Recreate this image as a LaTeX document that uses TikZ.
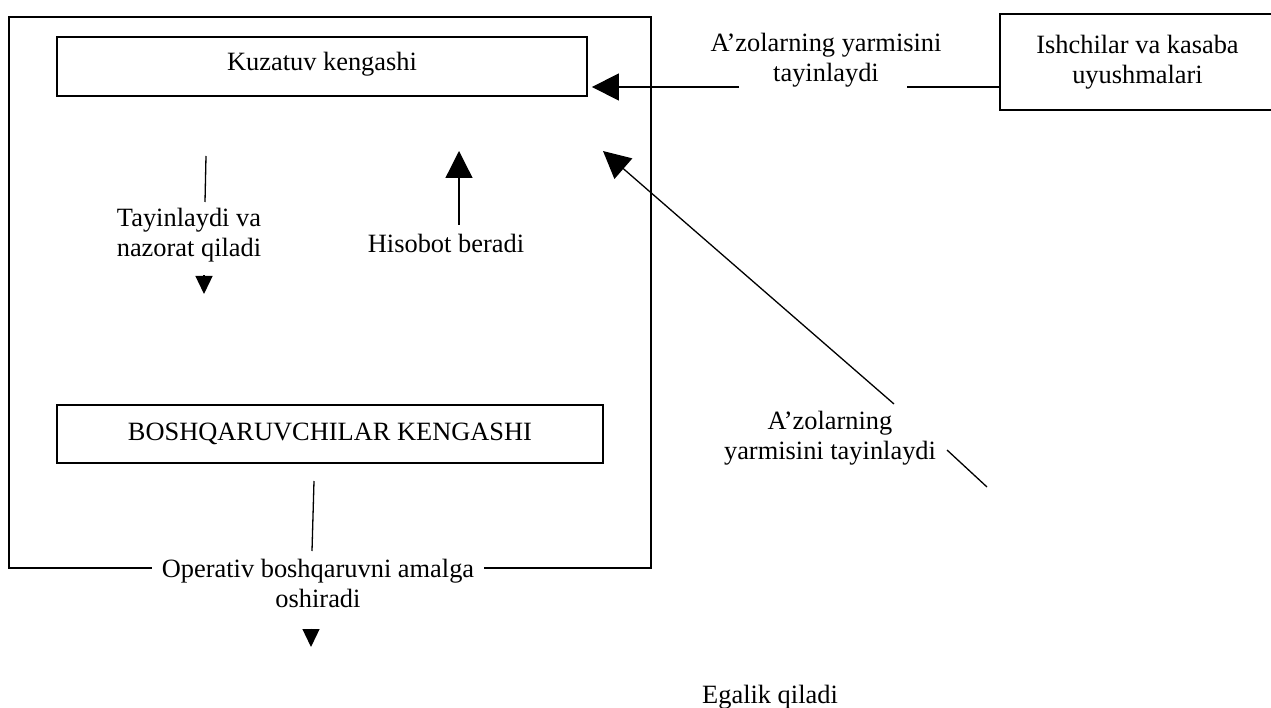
\documentclass[tikz,border=0pt]{standalone}
\usepackage{fontspec}
\setmainfont{Liberation Serif}
\usetikzlibrary{arrows.meta}
\begin{document}
\begin{tikzpicture}[x=1pt,y=-1pt,
  txt/.style={font=\fontsize{26.4}{30}\selectfont, inner sep=0pt, align=center},
  box/.style={txt, draw, line width=1.8pt},
  frameline/.style={line width=1.8pt},
  conn/.style={line width=1.3pt},
  arr/.style={conn, -{Triangle[length=27pt,width=27pt]}},
  sarr/.style={conn, -{Triangle[length=18pt,width=17pt]}}]
\useasboundingbox (0,0) rectangle (1271,708);
\clip (0,0) rectangle (1271,708);

% boxes
\node[box, minimum width=530pt, minimum height=59pt, text depth=11pt] (kuz) at (322,66.5) {Kuzatuv kengashi};
\node[box, minimum width=546pt, minimum height=58pt] (bosh) at (330,434) {BOSHQARUVCHILAR KENGASHI};
\node[box, minimum width=275pt, minimum height=96pt] (ish) at (1137.5,62) {Ishchilar va kasaba\\uyushmalari};

% labels
\node[txt] (toplbl) at (826,60) {A’zolarning yarmisini\\tayinlaydi};
\node[txt] (tay) at (189,235) {Tayinlaydi va\\nazorat qiladi};
\node[txt] (his) at (446,243) {Hisobot beradi};
\node[txt] (oper) at (318,583) {Operativ boshqaruvni amalga\\oshiradi};
\node[txt] (az2) at (830,438.5) {A’zolarning\\yarmisini tayinlaydi};
\node[txt, anchor=base west] (ega) at (702,703) {Egalik qiladi};

% outer frame with gap for the label
\coordinate (fTL) at (9,17);
\coordinate (fBR) at (651,568);
\draw[frameline] ([xshift=-10pt]oper.west |- fBR) -| (fTL) -| (fBR) -- ([xshift=10pt]oper.east |- fBR);

% top horizontal arrow (Ishchilar -> Kuzatuv)
\coordinate (h1) at (907,87);
\coordinate (h2) at (739,87);
\draw[conn] (h1 -| ish.west) -- (h1);
\draw[arr] (h2) -- ([xshift=4pt]kuz.east |- h2);

% diagonal arrow
\coordinate (d1) at (987,487);
\coordinate (d2) at (947,450);
\coordinate (d3) at (894,404);
\coordinate (d4) at (603,151);
\draw[conn] (d1) -- (d2);
\draw[arr] (d3) -- (d4);

% Hisobot beradi arrow
\coordinate (hs1) at (459,225);
\coordinate (hs2) at (459,151);
\draw[arr] (hs1) -- (hs2);

% Tayinlaydi arrow
\coordinate (t1) at (206,156);
\coordinate (t2) at (205,202);
\coordinate (t3) at (204,275.5);
\coordinate (t4) at (204,294);
\draw[conn] (t1) -- (t2);
\draw[sarr] (t3) -- (t4);

% Operativ arrow
\coordinate (o1) at (314,481);
\coordinate (o2) at (312,551);
\coordinate (o3) at (311,628.5);
\coordinate (o4) at (311,647);
\draw[conn] (o1) -- (o2);
\draw[sarr] (o3) -- (o4);
\end{tikzpicture}
\end{document}
